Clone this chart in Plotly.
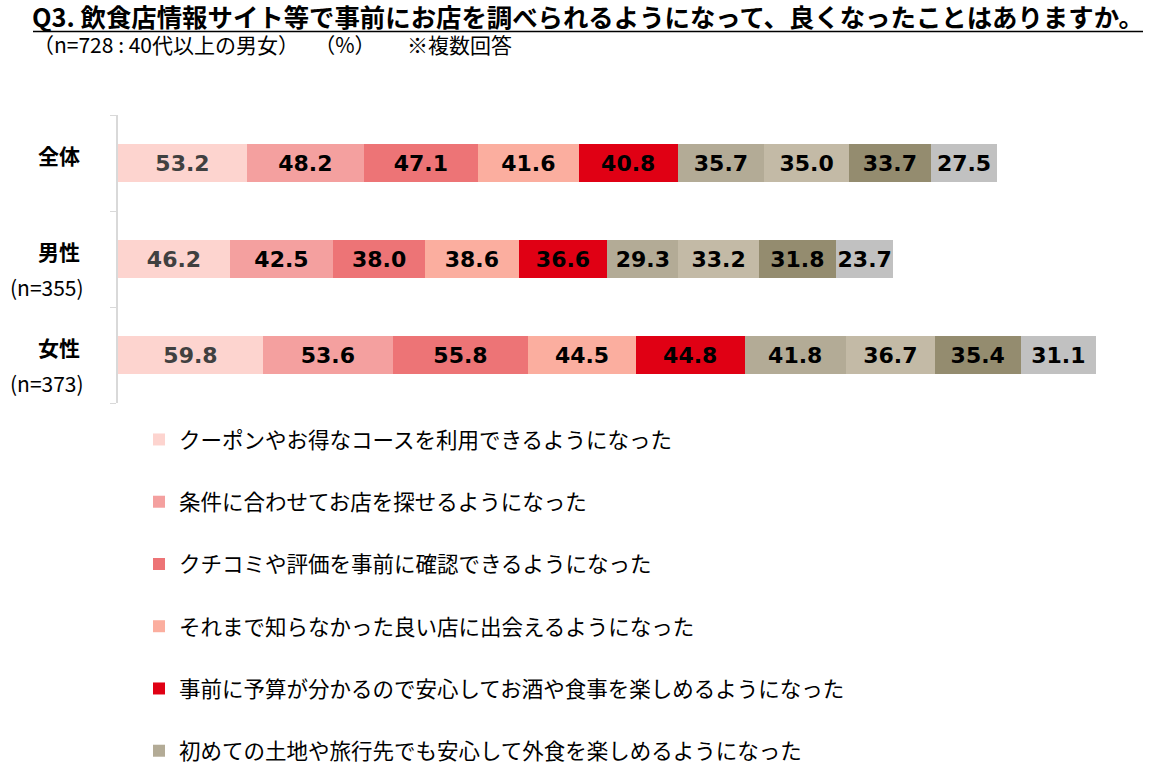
import plotly.graph_objects as go

categories = ["全体", "男性", "女性"]
tick_labels = ["<b>全体</b>", "<b>男性</b>", "<b>女性</b>"]
n_labels = ["", "(n=355)", "(n=373)"]

series_names = [
    "クーポンやお得なコースを利用できるようになった",
    "条件に合わせてお店を探せるようになった",
    "クチコミや評価を事前に確認できるようになった",
    "それまで知らなかった良い店に出会えるようになった",
    "事前に予算が分かるので安心してお酒や食事を楽しめるようになった",
    "初めての土地や旅行先でも安心して外食を楽しめるようになった",
    "選択肢7",
    "選択肢8",
    "選択肢9",
]

s1 = [53.2, 46.2, 59.8]
s2 = [48.2, 42.5, 53.6]
s3 = [47.1, 38.0, 55.8]
s4 = [41.6, 38.6, 44.5]
s5 = [40.8, 36.6, 44.8]
s6 = [35.7, 29.3, 41.8]
s7 = [35.0, 33.2, 36.7]
s8 = [33.7, 31.8, 35.4]
s9 = [27.5, 23.7, 31.1]
series_values = [s1, s2, s3, s4, s5, s6, s7, s8, s9]

colors = ["#FDD4CF", "#F4A09F", "#ED7476", "#FBAE9F", "#E00014",
          "#B3AB96", "#C3BAA6", "#948C6F", "#C1C1C1"]
text_colors = ["#404040"] + ["#000000"] * 8

fig = go.Figure()
for i, (name, vals) in enumerate(zip(series_names, series_values)):
    fig.add_trace(go.Bar(
        y=categories, x=vals, name=name, orientation="h",
        marker=dict(color=colors[i], line=dict(width=0)),
        text=[f"{v:.1f}" for v in vals],
        textposition="inside", insidetextanchor="middle",
        textfont=dict(family="DejaVu Sans", size=22, color=text_colors[i], weight="bold"),
        constraintext="none",
        legendgroup=f"g{i}",
        showlegend=i < 6,
        hoverinfo="skip",
    ))

W, H = 1162, 778
ml, mr, mt, mb = 118, 26, 115, 375
PW, PH = W - ml - mr, H - mt - mb


def px_x(x):
    return (x - ml) / PW


def px_y(y):
    return 1 + (mt - y) / PH


annotations = [
    dict(text="<b>Q3. 飲食店情報サイト等で事前にお店を調べられるようになって、良くなったことはありますか。</b>",
         xref="paper", yref="paper", x=px_x(30), y=px_y(16),
         xanchor="left", yanchor="middle", showarrow=False,
         font=dict(family="Noto Sans CJK JP", size=25.4, color="#000000")),
    dict(text="（n=728 : 40代以上の男女）　 （%）　　※複数回答",
         xref="paper", yref="paper", x=px_x(31), y=px_y(44),
         xanchor="left", yanchor="middle", showarrow=False,
         font=dict(family="Noto Sans CJK JP", size=21, color="#000000")),
]
for cat, lab in zip(categories, n_labels):
    if lab:
        annotations.append(dict(
            text=lab, xref="paper", yref="y", x=px_x(86), y=cat, yshift=-28,
            xanchor="right", yanchor="middle", showarrow=False,
            font=dict(family="Noto Sans CJK JP", size=21, color="#000000")))

fig.update_layout(
    width=W, height=H,
    barmode="stack", bargap=0.6,
    plot_bgcolor="white", paper_bgcolor="white",
    margin=dict(l=ml, r=mr, t=mt, b=mb, autoexpand=False),
    font=dict(family="Noto Sans CJK JP", color="#000000"),
    uniformtext=dict(minsize=22, mode="show"),
    xaxis=dict(range=[0, 420], visible=False, fixedrange=True),
    yaxis=dict(
        type="category", autorange="reversed",
        categoryorder="array", categoryarray=categories,
        tickvals=categories, ticktext=tick_labels,
        tickson="boundaries", ticks="outside", ticklen=6, tickcolor="#D9D9D9",
        showline=True, linecolor="#D9D9D9", linewidth=1.5,
        showgrid=False, zeroline=False,
        ticklabelstandoff=32,
        ticklabelshift=6,
        tickfont=dict(family="Noto Sans CJK JP", size=21, color="#000000"),
    ),
    legend=dict(
        x=px_x(139), xanchor="left",
        y=px_y(419), yanchor="top",
        orientation="v",
        font=dict(family="Noto Sans CJK JP", size=21.5, color="#000000"),
        tracegroupgap=31.3,
        bgcolor="rgba(0,0,0,0)",
        itemclick=False, itemdoubleclick=False,
    ),
    showlegend=True,
    annotations=annotations,
    shapes=[
        dict(type="line", xref="paper", yref="paper",
             x0=px_x(33), x1=px_x(1143), y0=px_y(31.5), y1=px_y(31.5),
             line=dict(color="#000000", width=1.5)),
    ],
)

fig.write_html("out.html", config={"displayModeBar": False},
               post_script="document.body.style.margin='0';document.body.style.overflow='hidden';")
